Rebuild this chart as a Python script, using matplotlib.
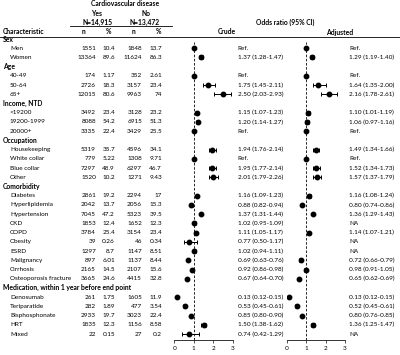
import numpy as np
import matplotlib.pyplot as plt

plt.rcParams['font.family'] = ['Lato', 'DejaVu Sans']

nan = np.nan

# rows of the table (section headers included)
labels = ["Sex", "Men", "Women",
          "Age", "40-49", "50-64", "65+",
          "Income, NTD", "<19200", "19200-1999", "20000+",
          "Occupation", "Housekeeping", "White collar", "Blue collar", "Other",
          "Comorbidity", "Diabetes", "Hyperlipidemia", "Hypertension", "CKD", "COPD",
          "Obesity", "ESRD", "Malignancy", "Cirrhosis", "Osteoporosis fracture",
          "Medication, within 1 year before end point", "Denosumab", "Teriparatide",
          "Bisphosphonate", "HRT", "Mixed"]
headers = ["Sex", "Age", "Income, NTD", "Occupation", "Comorbidity",
           "Medication, within 1 year before end point"]

n_yes = [None, 1551, 13364, None, 174, 2726, 12015, None, 3492, 8088, 3335,
         None, 5319, 779, 7297, 1520, None, 2861, 2042, 7045, 1853, 3784,
         39, 1297, 897, 2165, 3665, None, 261, 282, 2933, 1835, 22]
pct_yes = [None, 10.4, 89.6, None, 1.17, 18.3, 80.6, None, 23.4, 54.2, 22.4,
           None, 35.7, 5.22, 48.9, 10.2, None, 19.2, 13.7, 47.2, 12.4, 25.4,
           0.26, 8.7, 6.01, 14.5, 24.6, None, 1.75, 1.89, 19.7, 12.3, 0.15]
n_no = [None, 1848, 11624, None, 352, 3157, 9963, None, 3128, 6915, 3429,
        None, 4596, 1308, 6297, 1271, None, 2294, 2056, 5323, 1652, 3154,
        46, 1147, 1137, 2107, 4415, None, 1605, 477, 3023, 1156, 27]
pct_no = [None, 13.7, 86.3, None, 2.61, 23.4, 74, None, 23.2, 51.3, 25.5,
          None, 34.1, 9.71, 46.7, 9.43, None, 17, 15.3, 39.5, 12.3, 23.4,
          0.34, 8.51, 8.44, 15.6, 32.8, None, 11.9, 3.54, 22.4, 8.58, 0.2]

# odds ratios (Ref. rows -> 1 with no CI, NA -> nan)
crude_or = [nan, 1, 1.37, nan, 1, 1.75, 2.50, nan, 1.15, 1.20, 1,
            nan, 1.94, 1, 1.95, 2.01, nan, 1.16, 0.88, 1.37, 1.02, 1.11,
            0.77, 1.02, 0.69, 0.92, 0.67, nan, 0.13, 0.53, 0.85, 1.50, 0.74]
crude_lo = [nan, nan, 1.28, nan, nan, 1.45, 2.03, nan, 1.07, 1.14, nan,
            nan, 1.76, nan, 1.77, 1.79, nan, 1.09, 0.82, 1.31, 0.95, 1.05,
            0.50, 0.94, 0.63, 0.86, 0.64, nan, 0.12, 0.45, 0.80, 1.38, 0.42]
crude_hi = [nan, nan, 1.47, nan, nan, 2.11, 2.93, nan, 1.23, 1.27, nan,
            nan, 2.14, nan, 2.14, 2.26, nan, 1.23, 0.94, 1.44, 1.09, 1.17,
            1.17, 1.11, 0.76, 0.98, 0.70, nan, 0.15, 0.61, 0.90, 1.62, 1.29]
adj_or = [nan, 1, 1.29, nan, 1, 1.64, 2.16, nan, 1.10, 1.06, 1,
          nan, 1.49, 1, 1.52, 1.57, nan, 1.16, 0.80, 1.36, nan, 1.14,
          nan, nan, 0.72, 0.98, 0.65, nan, 0.13, 0.52, 0.80, 1.36, nan]
adj_lo = [nan, nan, 1.19, nan, nan, 1.35, 1.78, nan, 1.01, 0.97, nan,
          nan, 1.34, nan, 1.34, 1.37, nan, 1.08, 0.74, 1.29, nan, 1.07,
          nan, nan, 0.66, 0.91, 0.62, nan, 0.12, 0.45, 0.76, 1.25, nan]
adj_hi = [nan, nan, 1.40, nan, nan, 2.00, 2.61, nan, 1.19, 1.16, nan,
          nan, 1.66, nan, 1.73, 1.79, nan, 1.24, 0.86, 1.43, nan, 1.21,
          nan, nan, 0.79, 1.05, 0.69, nan, 0.15, 0.61, 0.85, 1.47, nan]

W, H = 400, 355
Y0, DY = 39.0, 9.22     # pixel position of first row and row step
FS = 4.6
FSB = 4.9

fig = plt.figure(figsize=(W / 100, H / 100), dpi=100)

# text layer in pixel coordinates
ax = fig.add_axes([0, 0, 1, 1])
ax.set_xlim(0, W)
ax.set_ylim(H, 0)
ax.axis('off')


def fmt_or(o, lo, hi, head):
    if head:
        return ""
    if np.isnan(o):
        return "NA"
    if np.isnan(lo):
        return "Ref."
    return f"{o:.2f} ({lo:.2f}-{hi:.2f})"


# column headers
bold = dict(fontsize=FSB, fontweight='bold', va='center')
ax.text(125, 4, "Cardiovascular disease", ha='center', **bold)
ax.text(97, 13, "Yes", ha='center', **bold)
ax.text(145.5, 13, "No", ha='center', **bold)
ax.text(97.5, 22, "N=14,915", ha='center', **bold)
ax.text(145, 22, "N=13,472", ha='center', **bold)
ax.plot([70, 172], [25.5, 25.5], color='black', lw=0.6)
ax.text(285, 22, "Odds ratio (95% CI)", ha='center', **bold)
ax.text(3, 32, "Characteristic", ha='left', **bold)
for x, t in zip([84, 108, 133, 159], ["n", "%", "n", "%"]):
    ax.text(x, 32, t, ha='center', **bold)
ax.text(227, 32, "Crude", ha='center', **bold)
ax.text(340, 32, "Adjusted", ha='center', **bold)
ax.plot([0, W], [36.5, 36.5], color='black', lw=0.6)

for i, lab in enumerate(labels):
    y = Y0 + DY * i
    head = lab in headers
    if head:
        ax.text(3, y, lab, ha='left', **bold)
        continue
    ax.text(10, y, lab, ha='left', va='center', fontsize=FS)
    for x, v in zip([96, 115, 142, 162], [n_yes[i], pct_yes[i], n_no[i], pct_no[i]]):
        ax.text(x, y, f"{v:g}", ha='right', va='center', fontsize=FS)
    ax.text(237.5, y, fmt_or(crude_or[i], crude_lo[i], crude_hi[i], head),
            ha='left', va='center', fontsize=FS)
    ax.text(349, y, fmt_or(adj_or[i], adj_lo[i], adj_hi[i], head),
            ha='left', va='center', fontsize=FS)

# forest plots
rows = np.arange(len(labels))
top_px, bot_px = 42, 340
ylim = ((bot_px - Y0) / DY, (top_px - Y0) / DY)


def forest(x0_px, x3_px, est, lo, hi):
    fa = fig.add_axes([x0_px / W, 1 - bot_px / H, (x3_px - x0_px) / W, (bot_px - top_px) / H])
    fa.patch.set_alpha(0)
    est = np.array(est)
    lo = np.array(lo)
    hi = np.array(hi)
    fa.axvline(1, color='black', lw=0.6, dashes=(3, 2))
    ci = ~np.isnan(lo)
    fa.errorbar(est[ci], rows[ci], xerr=[est[ci] - lo[ci], hi[ci] - est[ci]],
                fmt='none', ecolor='black', elinewidth=0.7, capsize=1.2, capthick=0.7)
    fa.plot(est, rows, 'o', color='black', ms=3.2, ls='none')
    fa.set_xlim(0, 3)
    fa.set_ylim(*ylim)
    fa.set_xticks([0, 1, 2, 3])
    fa.set_yticks([])
    for s in ['top', 'right', 'left']:
        fa.spines[s].set_visible(False)
    fa.spines['bottom'].set_linewidth(0.7)
    fa.spines['bottom'].set_color('#333333')
    fa.tick_params(axis='x', length=2.5, width=0.6, labelsize=FS, pad=2, color='#333333')
    return fa


forest(174.3, 232.7, crude_or, crude_lo, crude_hi)
forest(286.5, 345.0, adj_or, adj_lo, adj_hi)

fig.savefig("out.png", dpi=100)
